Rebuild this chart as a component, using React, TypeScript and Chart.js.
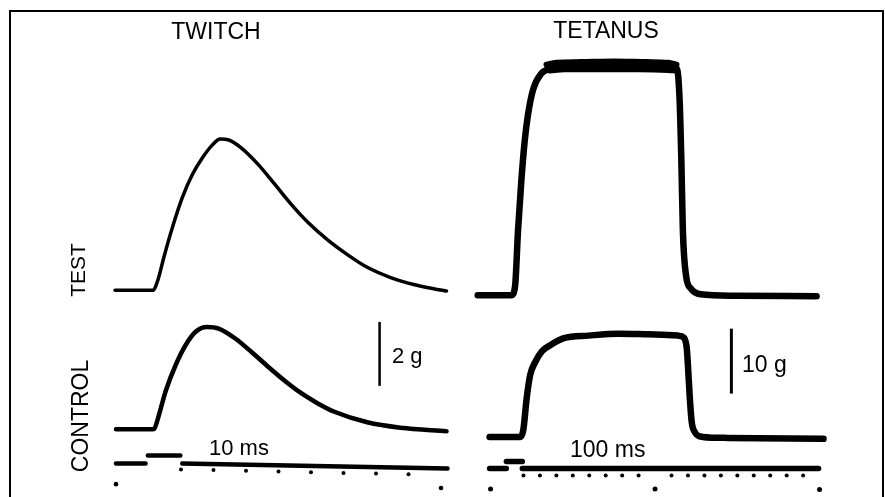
import React, { useEffect, useRef } from "react";
import { Chart, registerables } from "chart.js";

Chart.register(...registerables);

const W = 885;
const H = 497;
const FONT = "'Liberation Sans', Arial, Helvetica, sans-serif";
const INK = "#000";

// ---- TWITCH (time in ms, force in g) ----
const twitchTestTime = [-0.3, 11.3, 12.8, 14.8, 17.4, 20.4, 23.5, 26.5, 29.6, 32.1, 34.7, 38.7, 43.8, 48.9, 54.0, 59.1, 65.2, 71.3, 77.3, 84.5, 91.6, 97.7, 101.7];
const twitchTestForce = [0, 0, 0.29, 1.06, 1.98, 2.9, 3.62, 4.13, 4.54, 4.73, 4.7, 4.44, 3.93, 3.31, 2.68, 2.12, 1.57, 1.11, 0.72, 0.4, 0.18, 0.05, -0.02];

const twitchCtrlTime = [0, 11.3, 11.8, 13.3, 15.3, 18.4, 21.4, 24.5, 28.0, 31.6, 36.7, 41.8, 46.9, 51.9, 57.0, 62.1, 67.2, 77.3, 87.5, 101.7];
const twitchCtrlForce = [0, 0, 0.02, 0.48, 1.2, 2.02, 2.63, 3.05, 3.2, 3.15, 2.84, 2.41, 1.95, 1.52, 1.13, 0.81, 0.55, 0.22, 0.05, -0.06];

// ---- TETANUS (time in ms, force in g) ----
const tetTestTime = [-7.8, 12.7, 14.9, 16.7, 18.7, 20.7, 22.7, 25.9, 30.7, 36.7, 47.6, 77.7, 107.8, 113.3, 114.9, 116.0, 116.9, 118.9, 121.7, 127.7, 148.2, 198.2];
const tetTestForce = [0, 0, 1.41, 10.0, 17.6, 23.6, 27.7, 31.7, 34.1, 34.9, 35.3, 35.4, 35.2, 34.9, 30.2, 20.6, 10.0, 2.92, 1.06, 0.15, -0.08, -0.15];

// ripple envelope of the fused tetanus plateau
const tetTestRippleTopTime = [34, 40, 55, 75, 95, 108, 113];
const tetTestRippleTopForce = [35.5, 35.8, 35.9, 36.0, 35.9, 35.8, 35.5];
const tetTestRippleLowTime = [36, 45, 65, 90, 108, 113];
const tetTestRippleLowForce = [34.6, 34.8, 34.8, 34.8, 34.7, 34.6];

const tetCtrlTime = [-0.6, 18.1, 19.9, 22.0, 24.1, 27.1, 31.3, 36.7, 44.6, 59.6, 77.7, 95.8, 113.9, 117.5, 119.3, 119.9, 121.1, 122.3, 124.1, 128.9, 144.0, 202.4];
const tetCtrlForce = [0, 0, 1.06, 6.06, 9.55, 11.5, 13.2, 14.2, 15.2, 15.6, 15.9, 15.8, 15.6, 15.3, 13.6, 11.4, 6.06, 2.27, 0.76, 0, -0.15, -0.3];

// ---- Calibration bars ----
const twitchBarTime = 81.1;
const twitchBarForce = [1.36, 3.36]; // 2 g
const tetBarTime = 146.4;
const tetBarForce = [6.67, 16.67]; // 10 g

// ---- Time markers (level in arbitrary marker units) ----
const twitchMarkSegments = [
  [0, 9.1, 0.43, 0.43],
  [9.8, 19.8, 1.57, 1.57],
  [20.4, 102, 0.43, -0.29],
];
const twitchTickTimes = [20, 30, 40, 50, 60, 70, 80, 90];
const twitchTickLevels = [-0.43, -0.53, -0.63, -0.73, -0.84, -0.94, -1.04, -1.14];
const twitchMajorTimes = [0, 100];
const twitchMajorLevels = [-2.57, -3.14];

const tetMarkSegments = [
  [-0.6, 9.6, -0.29, -0.29],
  [9.6, 19.3, 0.71, 0.71],
  [19.3, 199.4, -0.29, -0.29],
];
const tetTickTimes = [20, 30, 40, 50, 60, 70, 80, 90, 110, 120, 130, 140, 150, 160, 170, 180, 190];
const tetTickLevels = tetTickTimes.map(() => -1.33);
const tetMajorTimes = [0, 100, 200];
const tetMajorLevels = [-3.29, -3.29, -3.35];

const labels = [
  { text: "TWITCH", x: 216, y: 39, size: 23, align: "center", rotate: false },
  { text: "TETANUS", x: 606, y: 38, size: 23, align: "center", rotate: false },
  { text: "TEST", x: 85, y: 270, size: 21, align: "center", rotate: true },
  { text: "CONTROL", x: 88, y: 416, size: 23, align: "center", rotate: true },
  { text: "2 g", x: 392, y: 363, size: 22, align: "left", rotate: false },
  { text: "10 g", x: 742, y: 372, size: 23, align: "left", rotate: false },
  { text: "10 ms", x: 209, y: 455, size: 22, align: "left", rotate: false },
  { text: "100 ms", x: 570, y: 457, size: 23, align: "left", rotate: false },
];

function pairs(xs: number[], ys: number[]) {
  return xs.map((x, i) => ({ x, y: ys[i] }));
}

function segmentsToPoints(segs: number[][]) {
  const pts: { x: number; y: number | null }[] = [];
  segs.forEach((s, i) => {
    if (i > 0) pts.push({ x: (segs[i - 1][1] + s[0]) / 2, y: null });
    pts.push({ x: s[0], y: s[2] });
    pts.push({ x: s[1], y: s[3] });
  });
  return pts;
}

function calib(v0: number, p0: number, k: number, size: number, vertical: boolean) {
  if (vertical) return { min: v0 - (size - p0) / k, max: v0 + p0 / k };
  return { min: v0 - p0 / k, max: v0 + (size - p0) / k };
}

const framePlugin = {
  id: "frameAndText",
  afterDraw(chart: any) {
    const ctx = chart.ctx;
    ctx.save();
    ctx.strokeStyle = INK;
    ctx.lineWidth = 2;
    ctx.beginPath();
    ctx.moveTo(10, H + 10);
    ctx.lineTo(10, 11);
    ctx.lineTo(883, 11);
    ctx.lineTo(883, H + 10);
    ctx.stroke();
    ctx.fillStyle = INK;
    for (const l of labels) {
      ctx.font = `${l.size}px ${FONT}`;
      ctx.textAlign = l.align;
      ctx.textBaseline = "alphabetic";
      if (l.rotate) {
        ctx.save();
        ctx.translate(l.x, l.y);
        ctx.rotate(-Math.PI / 2);
        ctx.fillText(l.text, 0, 0);
        ctx.restore();
      } else {
        ctx.fillText(l.text, l.x, l.y);
      }
    }
    ctx.restore();
  },
};

export default function App() {
  const ref = useRef<HTMLCanvasElement | null>(null);

  useEffect(() => {
    if (!ref.current) return;
    const trace = (data: any[], xAxisID: string, yAxisID: string, width: number, extra: any = {}) => ({
      type: "line",
      data,
      xAxisID,
      yAxisID,
      borderColor: INK,
      backgroundColor: INK,
      borderWidth: width,
      borderCapStyle: "round",
      borderJoinStyle: "round",
      cubicInterpolationMode: "monotone",
      pointRadius: 0,
      fill: false,
      ...extra,
    });
    const dots = (xs: number[], ys: number[], xAxisID: string, r: number) => ({
      type: "line",
      data: pairs(xs, ys),
      xAxisID,
      yAxisID: "yMark",
      showLine: false,
      pointRadius: r,
      pointBorderWidth: 0,
      pointBackgroundColor: INK,
      borderColor: INK,
    });

    const chart = new Chart(ref.current, {
      type: "line",
      data: {
        datasets: [
          trace(pairs(twitchTestTime, twitchTestForce), "xTw", "yTwTest", 3.5),
          trace(pairs(twitchCtrlTime, twitchCtrlForce), "xTw", "yTwCtrl", 4.5),
          trace(pairs(tetTestRippleTopTime, tetTestRippleTopForce), "xTe", "yTeTest", 6),
          trace(pairs(tetTestRippleLowTime, tetTestRippleLowForce), "xTe", "yTeTest", 6),
          trace(pairs(tetTestTime, tetTestForce), "xTe", "yTeTest", 6.5),
          trace(pairs(tetCtrlTime, tetCtrlForce), "xTe", "yTeCtrl", 6.5),
          trace(pairs([twitchBarTime, twitchBarTime], twitchBarForce), "xTw", "yTwCtrl", 2.5, { cubicInterpolationMode: "default", tension: 0, borderCapStyle: "butt" }),
          trace(pairs([tetBarTime, tetBarTime], tetBarForce), "xTe", "yTeCtrl", 3, { cubicInterpolationMode: "default", tension: 0, borderCapStyle: "butt" }),
          trace(segmentsToPoints(twitchMarkSegments), "xTw", "yMark", 4.5, { cubicInterpolationMode: "default", tension: 0, spanGaps: false }),
          trace(segmentsToPoints(tetMarkSegments), "xTe", "yMark", 5.5, { cubicInterpolationMode: "default", tension: 0, spanGaps: false }),
          dots(twitchTickTimes, twitchTickLevels, "xTw", 2),
          dots(twitchMajorTimes, twitchMajorLevels, "xTw", 2.3),
          dots(tetTickTimes, tetTickLevels, "xTe", 2),
          dots(tetMajorTimes, tetMajorLevels, "xTe", 2.5),
        ] as any,
      },
      options: {
        responsive: false,
        animation: false,
        events: [],
        layout: { padding: 0 },
        plugins: { legend: { display: false }, tooltip: { enabled: false }, title: { display: false } },
        scales: {
          xTw: { type: "linear", display: false, ...calib(0, 113, 3.28, W, false) },
          xTe: { type: "linear", display: false, ...calib(0, 491, 1.66, W, false) },
          yTwTest: { type: "linear", display: false, ...calib(0, 291, 32.5, H, true) },
          yTwCtrl: { type: "linear", display: false, ...calib(0, 432.3, 32.5, H, true) },
          yTeTest: { type: "linear", display: false, ...calib(0, 296, 6.6, H, true) },
          yTeCtrl: { type: "linear", display: false, ...calib(0, 440, 6.6, H, true) },
          yMark: { type: "linear", display: false, ...calib(0, 470, 7, H, true) },
        },
      } as any,
      plugins: [framePlugin as any],
    });
    return () => chart.destroy();
  }, []);

  return (
    <div style={{ position: "fixed", left: 0, top: 0, width: W, height: H, background: "#fff" }}>
      <canvas ref={ref} width={W} height={H} style={{ display: "block", width: W, height: H }} />
    </div>
  );
}
